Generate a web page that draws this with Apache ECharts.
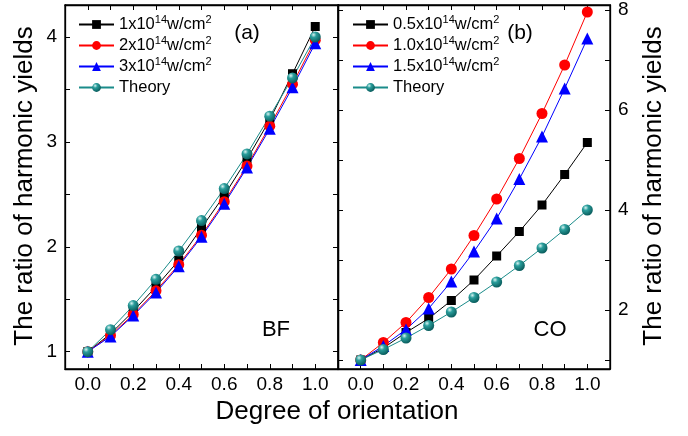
<!DOCTYPE html>
<html>
<head>
<meta charset="utf-8">
<script src="https://cdn.jsdelivr.net/npm/echarts@6/dist/echarts.min.js"></script>
<style>
html,body{margin:0;padding:0;background:#fff;}
#c{width:688px;height:436px;}
</style>
</head>
<body>
<div id="c"></div>
<script>
// ---- data ----
var degree = [0.0, 0.1, 0.2, 0.3, 0.4, 0.5, 0.6, 0.7, 0.8, 0.9, 1.0];

// panel (a) BF
var namesA = ['1x10^14w/cm^2', '2x10^14w/cm^2', '3x10^14w/cm^2', 'Theory'];
var bf1 = [1, 1.17, 1.385, 1.62, 1.87, 2.18, 2.49, 2.835, 3.21, 3.65, 4.1];
var bf2 = [1, 1.155, 1.355, 1.58, 1.83, 2.11, 2.43, 2.77, 3.15, 3.55, 3.97];
var bf3 = [1, 1.145, 1.345, 1.565, 1.815, 2.095, 2.41, 2.755, 3.125, 3.52, 3.94];
var bfTheory = [1, 1.21, 1.44, 1.69, 1.96, 2.25, 2.555, 2.885, 3.245, 3.61, 4.0];

// panel (b) CO
var namesB = ['0.5x10^14w/cm^2', '1.0x10^14w/cm^2', '1.5x10^14w/cm^2', 'Theory'];
var co05 = [1, 1.24, 1.55, 1.83, 2.19, 2.6, 3.08, 3.57, 4.1, 4.71, 5.35];
var co10 = [1, 1.35, 1.75, 2.25, 2.82, 3.49, 4.22, 5.03, 5.93, 6.9, 7.96];
var co15 = [1, 1.28, 1.61, 2.03, 2.57, 3.17, 3.83, 4.62, 5.47, 6.43, 7.43];
var coTheory = [1, 1.21, 1.44, 1.69, 1.96, 2.25, 2.56, 2.89, 3.24, 3.61, 4.0];

// ticks
var xTicks = [0.0, 0.1, 0.2, 0.3, 0.4, 0.5, 0.6, 0.7, 0.8, 0.9, 1.0];
var xLabels = [0.0, 0.2, 0.4, 0.6, 0.8, 1.0];
var yTicksA = [1, 1.5, 2, 2.5, 3, 3.5, 4];
var yLabelsA = [1, 2, 3, 4];
var yTicksB = [1, 2, 3, 4, 5, 6, 7, 8];
var yLabelsB = [2, 4, 6, 8];

// ---- chart ----
var FONT = '"Liberation Sans", Arial, sans-serif';
function zip(ys) { return degree.map(function (x, i) { return [x, ys[i]]; }); }
function fmtName(n) { return n.replace('^14', '{sup|14}').replace('^2', '{sup|2}'); }

var ball = new echarts.graphic.RadialGradient(0.35, 0.3, 0.7, [
  { offset: 0, color: '#d8f4f2' },
  { offset: 0.35, color: '#2a9e9c' },
  { offset: 1, color: '#0a5e5e' }
]);
var teal = '#1a8c8a';

var styles = [
  { symbol: 'rect', symbolSize: 9, color: '#000000' },
  { symbol: 'circle', symbolSize: 11, color: '#ff0000' },
  { symbol: 'triangle', symbolSize: 12, color: '#0000ff' },
  { symbol: 'circle', symbolSize: 11, color: teal, fill: ball }
];

function mkSeries(name, ys, st, xi, yi) {
  return {
    type: 'line', name: name, data: zip(ys), xAxisIndex: xi, yAxisIndex: yi,
    symbol: st.symbol, symbolSize: st.symbolSize, showAllSymbol: true,
    lineStyle: { color: st.color, width: 1 },
    itemStyle: { color: st.fill || st.color, borderWidth: 0 },
    animation: false, silent: true
  };
}

function xAx(grid, pos, labels) {
  return {
    type: 'value', gridIndex: grid, position: pos, min: -0.1, max: 1.1,
    axisLine: { show: true, onZero: false, lineStyle: { color: '#000', width: 1.3 } },
    axisTick: { show: true, inside: true, length: 5, customValues: xTicks, lineStyle: { color: '#000', width: 1 } },
    axisLabel: labels ? { show: true, customValues: xLabels, margin: 6, color: '#000', fontSize: 19, fontFamily: FONT,
      formatter: function (v) { return v.toFixed(1); } } : { show: false },
    splitLine: { show: false }
  };
}
function yAx(grid, pos, min, max, ticks, labels, showLabels) {
  return {
    type: 'value', gridIndex: grid, position: pos, min: min, max: max,
    axisLine: { show: true, onZero: false, lineStyle: { color: '#000', width: 1.3 } },
    axisTick: { show: true, inside: true, length: 5, customValues: ticks, lineStyle: { color: '#000', width: 1 } },
    axisLabel: showLabels ? { show: true, customValues: labels, margin: 8, color: '#000', fontSize: 19, fontFamily: FONT } : { show: false },
    splitLine: { show: false }
  };
}

function legend(left, names) {
  return {
    orient: 'vertical', left: left, top: 14, padding: 0, itemWidth: 35, itemHeight: 11, itemGap: 0,
    data: names, selectedMode: false,
    formatter: fmtName,
    textStyle: { fontSize: 16.5, fontFamily: FONT, color: '#000', lineHeight: 21,
      rich: { sup: { fontSize: 11, fontFamily: FONT, color: '#000', verticalAlign: 'top', lineHeight: 9 } } }
  };
}

var option = {
  backgroundColor: '#ffffff',
  animation: false,
  grid: [
    { left: 65, top: 5, width: 273, height: 364, show: true, borderColor: '#000', borderWidth: 1.3, backgroundColor: 'transparent' },
    { left: 338, top: 5, width: 272, height: 364, show: true, borderColor: '#000', borderWidth: 1.3, backgroundColor: 'transparent' }
  ],
  xAxis: [
    xAx(0, 'bottom', true), xAx(0, 'top', false),
    xAx(1, 'bottom', true), xAx(1, 'top', false)
  ],
  yAxis: [
    yAx(0, 'left', 0.835, 4.305, yTicksA, yLabelsA, true),
    yAx(0, 'right', 0.835, 4.305, yTicksA, yLabelsA, false),
    yAx(1, 'right', 0.82, 8.1, yTicksB, yLabelsB, true),
    yAx(1, 'left', 0.82, 8.1, yTicksB, yLabelsB, false)
  ],
  legend: [legend(78, namesA), legend(352, namesB)],
  series: [
    mkSeries(namesA[0], bf1, styles[0], 0, 0),
    mkSeries(namesA[1], bf2, styles[1], 0, 0),
    mkSeries(namesA[2], bf3, styles[2], 0, 0),
    mkSeries(namesA[3], bfTheory, styles[3], 0, 0),
    mkSeries(namesB[0], co05, styles[0], 2, 2),
    mkSeries(namesB[1], co10, styles[1], 2, 2),
    mkSeries(namesB[2], co15, styles[2], 2, 2),
    mkSeries(namesB[3], coTheory, styles[3], 2, 2)
  ],
  graphic: [
    { type: 'text', x: 25, y: 186, rotation: Math.PI / 2,
      style: { text: 'The ratio of harmonic yields', fontSize: 26, fontFamily: FONT, fill: '#000', align: 'center', verticalAlign: 'middle' } },
    { type: 'text', x: 654, y: 186, rotation: Math.PI / 2,
      style: { text: 'The ratio of harmonic yields', fontSize: 26, fontFamily: FONT, fill: '#000', align: 'center', verticalAlign: 'middle' } },
    { type: 'text', x: 337, y: 412,
      style: { text: 'Degree of orientation', fontSize: 26, fontFamily: FONT, fill: '#000', align: 'center', verticalAlign: 'middle' } },
    { type: 'text', x: 247, y: 33,
      style: { text: '(a)', fontSize: 21, fontFamily: FONT, fill: '#000', align: 'center', verticalAlign: 'middle' } },
    { type: 'text', x: 520, y: 33,
      style: { text: '(b)', fontSize: 21, fontFamily: FONT, fill: '#000', align: 'center', verticalAlign: 'middle' } },
    { type: 'text', x: 276, y: 330,
      style: { text: 'BF', fontSize: 22, fontFamily: FONT, fill: '#000', align: 'center', verticalAlign: 'middle' } },
    { type: 'text', x: 550, y: 330,
      style: { text: 'CO', fontSize: 22, fontFamily: FONT, fill: '#000', align: 'center', verticalAlign: 'middle' } }
  ]
};

var chart = echarts.init(document.getElementById('c'), null, { renderer: 'canvas' });
chart.setOption(option);
</script>
</body>
</html>
